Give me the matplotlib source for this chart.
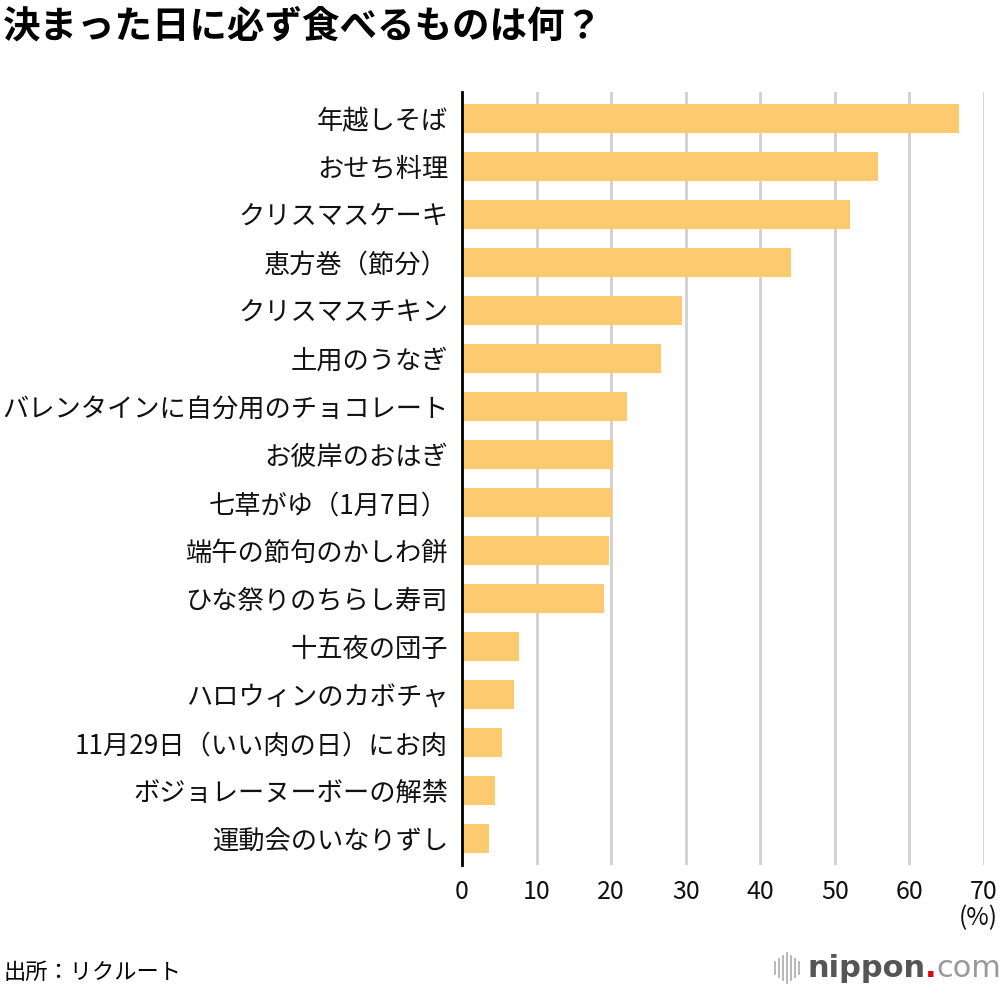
import matplotlib
matplotlib.use("Agg")
from matplotlib import pyplot as plt
from matplotlib.lines import Line2D

plt.rcParams['font.family'] = ['Noto Sans CJK JP', 'DejaVu Sans']

# data (percent)
foods = ['年越しそば', 'おせち料理', 'クリスマスケーキ', '恵方巻（節分）', 'クリスマスチキン',
         '土用のうなぎ', 'バレンタインに自分用のチョコレート', 'お彼岸のおはぎ', '七草がゆ（1月7日）',
         '端午の節句のかしわ餅', 'ひな祭りのちらし寿司', '十五夜の団子', 'ハロウィンのカボチャ',
         '11月29日（いい肉の日）にお肉', 'ボジョレーヌーボーの解禁', '運動会のいなりずし']
values = [66.7, 55.8, 52.0, 44.1, 29.5, 26.7, 22.1, 20.3, 20.1, 19.7, 19.1, 7.6, 7.0, 5.3, 4.4, 3.6]
xticks = [0, 10, 20, 30, 40, 50, 60, 70]

fig = plt.figure(figsize=(10, 9.9), dpi=100)
ax = fig.add_axes([0.462, 0.126, 0.522, 0.781])

pos = list(range(len(foods)))
ax.barh(pos, values, height=0.6, color='#fdca6f', zorder=3)
ax.set_ylim(len(foods) - 0.45, -0.55)
ax.set_xlim(0, 70)

ax.set_yticks(pos)
ax.set_yticklabels(foods, fontsize=18.9, color='#111111')
ax.set_xticks(xticks)
ax.set_xticklabels([str(t) for t in xticks], fontsize=18, color='#111111')
ax.tick_params(length=0, pad=10)
ax.tick_params(axis='x', pad=10)

ax.grid(axis='x', color='#d0d0d0', linewidth=2, zorder=0)
for s in ['top', 'right', 'bottom']:
    ax.spines[s].set_visible(False)
ax.spines['left'].set_linewidth(2)
ax.spines['left'].set_zorder(4)

fig.text(0.003, 0.974, '決まった日に必ず食べるものは何？', fontsize=27, fontweight='bold',
         va='center', ha='left')
fig.text(0.998, 0.073, '(%)', fontsize=17.5, ha='right', va='center', color='#111111')
fig.text(0.003, 0.018, '出所：リクルート', fontsize=16, ha='left', va='center')

# nippon.com logo
for i, h in enumerate([0.012, 0.018, 0.024, 0.030, 0.024, 0.018, 0.012]):
    x = 0.775 + i * 0.004
    fig.add_artist(Line2D([x, x], [0.022 - h / 2, 0.022 + h / 2], color='#aaaaaa', linewidth=1.2))
t1 = fig.text(0.807, 0.022, 'nippon', fontsize=22, fontweight='bold', color='#555555',
              ha='left', va='center', family='DejaVu Sans')
fig.canvas.draw()
bb = t1.get_window_extent()
x2 = bb.x1 / fig.bbox.width
t2 = fig.text(x2, 0.022, '.', fontsize=22, fontweight='bold', color='#e60012',
              ha='left', va='center', family='DejaVu Sans')
bb = t2.get_window_extent()
x3 = bb.x1 / fig.bbox.width
fig.text(x3, 0.022, 'com', fontsize=22, color='#999999', ha='left', va='center', family='DejaVu Sans')

fig.savefig('out.png', dpi=100)
